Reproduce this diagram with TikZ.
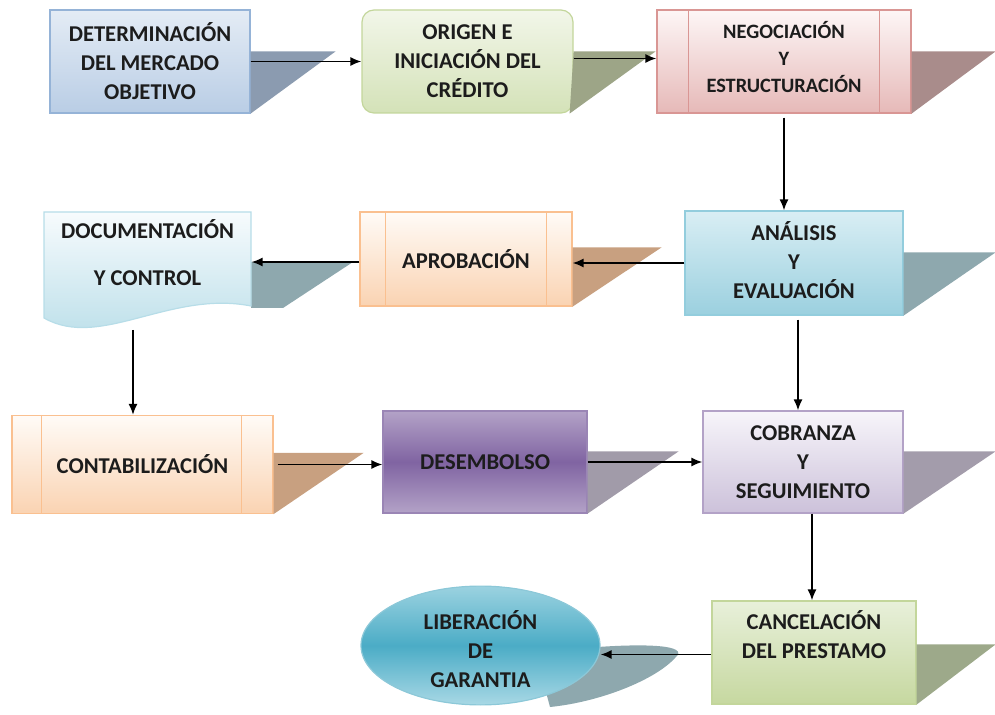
\documentclass[tikz,border=0pt]{standalone}
\usepackage{fontspec}
\setmainfont{Carlito}
\usetikzlibrary{arrows.meta}
\usetikzlibrary{shapes.geometric}

\definecolor{txt}{HTML}{1C1C1C}
\definecolor{dettop}{HTML}{E4ECF5}\definecolor{detbot}{HTML}{B9CDE5}\definecolor{detline}{HTML}{95B3D7}\definecolor{detsh}{HTML}{8B9BB0}
\definecolor{oritop}{HTML}{F2F6E9}\definecolor{oribot}{HTML}{D4E2B8}\definecolor{oriline}{HTML}{C3D69B}\definecolor{orish}{HTML}{9DA587}
\definecolor{negtop}{HTML}{FDF6F6}\definecolor{negbot}{HTML}{E6B9B8}\definecolor{negline}{HTML}{D99694}\definecolor{negsh}{HTML}{A98C8B}
\definecolor{anatop}{HTML}{D9EEF4}\definecolor{anabot}{HTML}{9BD0DF}\definecolor{analine}{HTML}{93CDDD}\definecolor{anash}{HTML}{8EA8AE}
\definecolor{aprtop}{HTML}{FFFBF7}\definecolor{aprbot}{HTML}{FAD3B2}\definecolor{aprline}{HTML}{FAC090}\definecolor{aprsh}{HTML}{C8A080}
\definecolor{doctop}{HTML}{F7FBFD}\definecolor{docbot}{HTML}{B7DDE8}\definecolor{docline}{HTML}{B7DDE8}
\definecolor{destop}{HTML}{B3A2C7}\definecolor{desmid}{HTML}{8064A2}\definecolor{desline}{HTML}{9A85B5}\definecolor{dessh}{HTML}{A19BA9}
\definecolor{cobtop}{HTML}{F7F5FA}\definecolor{cobbot}{HTML}{CCC1DA}\definecolor{cobline}{HTML}{B3A2C7}\definecolor{cobsh}{HTML}{A39CAB}
\definecolor{cantop}{HTML}{E8F0DA}\definecolor{canbot}{HTML}{C6D8A0}\definecolor{canline}{HTML}{C3D69B}\definecolor{cansh}{HTML}{9DA98A}
\definecolor{libtop}{HTML}{9BD2E0}\definecolor{libmid}{HTML}{4BACC6}\definecolor{libbot}{HTML}{A8D8E5}\definecolor{libline}{HTML}{8CC8D8}

\begin{document}
\begin{tikzpicture}[x=0.5pt,y=-0.5pt,
	box/.style={draw,line width=0.6pt,inner sep=0pt,align=center,text=txt,font=\fontsize{11.3}{14.5}\selectfont\bfseries},
	conn/.style={line width=0.8pt,-{Latex[length=5.5pt,width=4.5pt]}}]
	\useasboundingbox (0,0) rectangle (995,715);
	%\draw[help lines,step=50] (0,0) grid (995,715);

	% shadow of the ellipse, under it
	\fill[anash] (598,647) .. controls (640,644) and (692,644) .. (675,658) .. controls (655,680) and (600,702) .. (550,707) -- (540,670) -- cycle;
	\fill[anash] (251,262) -- (353,262) -- (283,308) -- (251,308) -- cycle;

	\node[box,draw=detline,top color=dettop,bottom color=detbot,minimum width=100pt,minimum height=51.5pt] (det) at (150,61.5) {DETERMINACIÓN\\DEL MERCADO\\OBJETIVO};
	\node[box,draw=oriline,top color=oritop,bottom color=oribot,rounded corners=6pt,minimum width=105.5pt,minimum height=51.5pt] (ori) at (467.5,61.5) {ORIGEN E\\INICIACIÓN DEL\\CRÉDITO};
	\node[box,draw=negline,top color=negtop,bottom color=negbot,minimum width=127pt,minimum height=51.5pt,text depth=5pt,font=\fontsize{10.2}{13.5}\selectfont\bfseries] (neg) at (784,61.5) {NEGOCIACIÓN\\Y\\ESTRUCTURACIÓN};
	\draw[negline,line width=0.6pt] ([xshift=16pt]neg.north west) -- ([xshift=16pt]neg.south west);
	\draw[negline,line width=0.6pt] ([xshift=-16pt]neg.north east) -- ([xshift=-16pt]neg.south east);

	\node[box,draw=analine,top color=anatop,bottom color=anabot,minimum width=109pt,minimum height=52pt,text depth=2.5pt] (ana) at (794,263) {ANÁLISIS\\Y\\EVALUACIÓN};
	\node[box,draw=aprline,top color=aprtop,bottom color=aprbot,minimum width=106pt,minimum height=47pt] (apr) at (466,259) {APROBACIÓN};
	\draw[aprline,line width=0.6pt] ([xshift=13pt]apr.north west) -- ([xshift=13pt]apr.south west);
	\draw[aprline,line width=0.6pt] ([xshift=-13pt]apr.north east) -- ([xshift=-13pt]apr.south east);
	\draw[docline,line width=0.6pt,top color=doctop,bottom color=docbot] (44,212) -- (251,212) -- (251,306) .. controls (170,290) and (100,350) .. (44,318) -- cycle;
	\node[box,draw=none,minimum width=103.5pt,minimum height=44pt] (doc) at (147.5,253) {DOCUMENTACIÓN\\[9pt]Y CONTROL};
	\coordinate (docbot) at (133,330);

	\node[box,draw=aprline,top color=aprtop,bottom color=aprbot,minimum width=130.5pt,minimum height=49pt] (cont) at (142.5,464.5) {CONTABILIZACIÓN};
	\draw[aprline,line width=0.6pt] ([xshift=15pt]cont.north west) -- ([xshift=15pt]cont.south west);
	\draw[aprline,line width=0.6pt] ([xshift=-16pt]cont.north east) -- ([xshift=-16pt]cont.south east);
	\node[box,draw=desline,top color=destop,bottom color=destop,middle color=desmid,minimum width=102pt,minimum height=51pt] (des) at (485,462) {DESEMBOLSO};
	\node[box,draw=cobline,top color=cobtop,bottom color=cobbot,minimum width=100pt,minimum height=51pt] (cob) at (803,462) {COBRANZA\\Y\\SEGUIMIENTO};

	\node[box,draw=canline,top color=cantop,bottom color=canbot,minimum width=102pt,minimum height=51.5pt,text depth=17.5pt] (can) at (814,652.5) {CANCELACIÓN\\DEL PRESTAMO};
	\node[box,ellipse,draw=libline,top color=libtop,bottom color=libbot,middle color=libmid,minimum width=119.5pt,minimum height=57.5pt,text height=42pt,text depth=-2pt] (lib) at (480.5,645.5) {LIBERACIÓN\\DE\\GARANTIA};

	% shadows
	\fill[detsh] (det.north east) ++(0,42) -- ++(85,0) -- (det.south east) -- cycle;
	\fill[orish] (ori.north east) ++(0,42) -- ++(82,0) -- ([xshift=-2pt]ori.south east) -- cycle;
	\fill[negsh] (neg.north east) ++(0,42) -- ++(84,0) -- (neg.south east) -- cycle;
	\fill[anash] (ana.north east) ++(0,42) -- ++(92,0) -- (ana.south east) -- cycle;
	\fill[aprsh] (apr.north east) ++(0,36) -- ++(89,0) -- (apr.south east) -- cycle;
	\fill[aprsh] (cont.north east) ++(0,38) -- ++(90,0) -- (cont.south east) -- cycle;
	\fill[dessh] (des.north east) ++(0,41) -- ++(91,0) -- (des.south east) -- cycle;
	\fill[cobsh] (cob.north east) ++(0,41) -- ++(92,0) -- (cob.south east) -- cycle;
	\fill[cansh] (can.north east) ++(0,44) -- ++(79,0) -- (can.south east) -- cycle;

	% arrows
	\draw[conn] (det.east) -- (ori.west);
	\draw[conn] ([yshift=1.5pt]ori.east) -- ([yshift=1.5pt]neg.west);
	\draw[conn] ([yshift=-2pt]neg.south) -- (neg.south |- ana.north);
	\draw[conn] (ana.west) -- (ana.west -| apr.east);
	\draw[conn] ([yshift=-1.5pt]apr.west) -- ([yshift=-1.5pt]apr.west -| doc.east);
	\draw[conn] (docbot) -- (docbot |- cont.north);
	\draw[conn] ([xshift=2pt]cont.east) -- (cont.east -| des.west);
	\draw[conn] (des.east) -- (cob.west);
	\draw[conn] ([xshift=2pt,yshift=-2pt]ana.south) -- ([xshift=2pt]ana.south |- cob.north);
	\draw[conn] ([xshift=-1pt]can.north |- cob.south) -- ([xshift=-1pt]can.north);
	\draw[conn] ([yshift=-1pt]can.west) -- ([yshift=-1pt]can.west -| lib.east);
\end{tikzpicture}
\end{document}
